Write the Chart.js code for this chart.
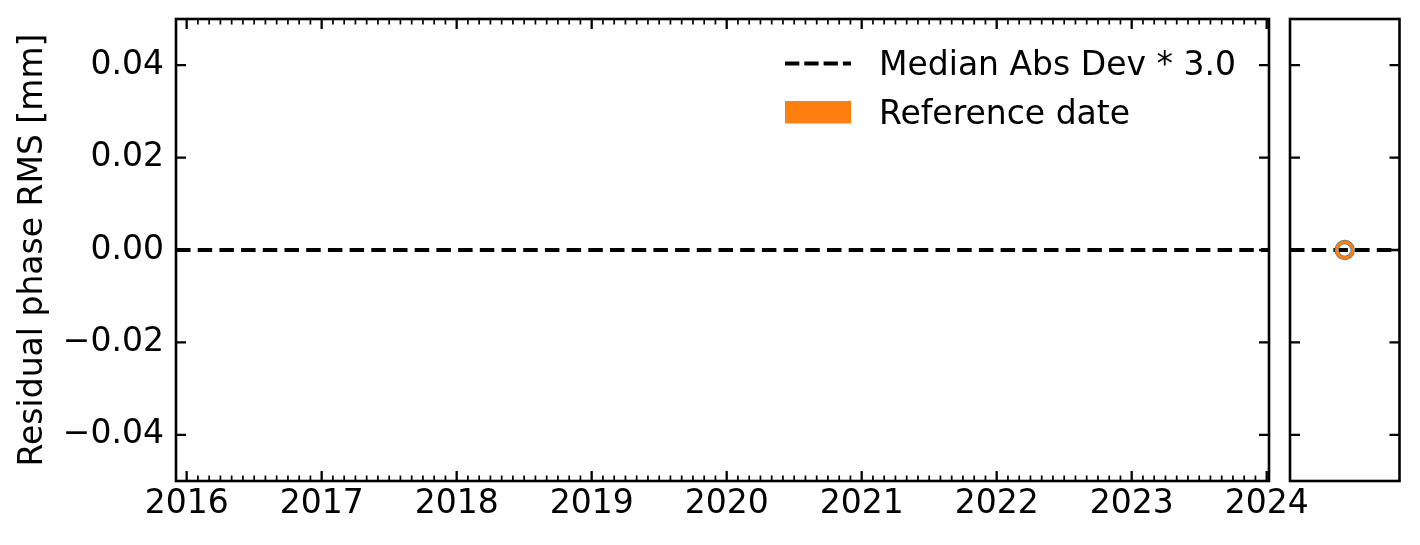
<!DOCTYPE html>
<html><head><meta charset="utf-8">
<script src="https://cdn.jsdelivr.net/npm/chart.js@4.4.0/dist/chart.umd.min.js"></script>
<style>
html,body{margin:0;padding:0;background:#fff;}
#wrap{position:relative;width:1420px;height:545px;}
canvas{position:absolute;left:0;top:0;}
</style></head><body>
<div id="wrap"><canvas id="main" width="1420" height="545"></canvas><canvas id="side" width="1420" height="545"></canvas></div>
<script>
// ---- data ----
const X_TICK_YEARS = [2016, 2017, 2018, 2019, 2020, 2021, 2022, 2023, 2024];
const X_RANGE = [2015.921, 2024.017];
const Y_TICKS = [-0.04, -0.02, 0, 0.02, 0.04];
const Y_RANGE = [-0.05, 0.05];
const MAD_LABEL = 'Median Abs Dev * 3.0';
const MAD_VALUE = [0];
const REF_LABEL = 'Reference date';
const SIDE_X = [0];          // reference-date sample (days from reference date)
const SIDE_Y = [0];          // residual phase RMS at the reference date
const SIDE_RANGE = [-1, 1];
const Y_TITLE = 'Residual phase RMS [mm]';

const FONT = 'DejaVu Sans';
const FS = 33;
const BLACK = '#000000';
const ORANGE = '#ff7f0e';
const BLUE = '#1f77b4';
const DASH = [14.5, 7.2];

function fmtY(v) {
  const s = Number(v).toFixed(2);
  return (Math.abs(v) < 1e-12 ? '0.00' : s).replace('-', '\u2212');
}

// frame + inward ticks plugin
function framePlugin(opts) {
  return {
    id: 'frame' + opts.name,
    afterDatasetsDraw(chart) {
      const {ctx, chartArea: a, scales} = chart;
      ctx.save();
      ctx.strokeStyle = BLACK;
      ctx.lineCap = 'butt';
      ctx.lineWidth = 2.3;
      Y_TICKS.forEach(v => {
        const py = scales.y.getPixelForValue(v);
        ctx.beginPath();
        ctx.moveTo(a.left, py); ctx.lineTo(a.left + 10, py);
        ctx.moveTo(a.right, py); ctx.lineTo(a.right - 10, py);
        ctx.stroke();
      });
      if (opts.xTicks) {
        const xs = scales.x;
        X_TICK_YEARS.forEach(v => {
          const px = xs.getPixelForValue(v);
          ctx.lineWidth = 2.3;
          ctx.beginPath();
          ctx.moveTo(px, a.bottom); ctx.lineTo(px, a.bottom - 10);
          ctx.moveTo(px, a.top); ctx.lineTo(px, a.top + 10);
          ctx.stroke();
        });
        ctx.lineWidth = 1.7;
        const y0 = X_TICK_YEARS[0] - 1, y1 = X_TICK_YEARS[X_TICK_YEARS.length - 1];
        for (let yr = y0; yr <= y1; yr++) {
          for (let m = 1; m < 12; m++) {
            const v = yr + m / 12;
            if (v < X_RANGE[0] || v > X_RANGE[1]) continue;
            const px = xs.getPixelForValue(v);
            ctx.beginPath();
            ctx.moveTo(px, a.bottom); ctx.lineTo(px, a.bottom - 5.5);
            ctx.moveTo(px, a.top); ctx.lineTo(px, a.top + 5.5);
            ctx.stroke();
          }
        }
      }
      ctx.lineWidth = 2.6;
      ctx.strokeRect(a.left, a.top, a.right - a.left, a.bottom - a.top);
      ctx.restore();
    }
  };
}

const legendPlugin = {
  id: 'customLegend',
  afterDraw(chart) {
    const ctx = chart.ctx;
    ctx.save();
    ctx.strokeStyle = BLACK;
    ctx.lineWidth = 3.9;
    ctx.setLineDash([14.3, 5.0]);
    ctx.beginPath();
    ctx.moveTo(785, 63.5); ctx.lineTo(851, 63.5);
    ctx.stroke();
    ctx.setLineDash([]);
    ctx.fillStyle = ORANGE;
    ctx.fillRect(785, 101, 66, 22.5);
    ctx.fillStyle = BLACK;
    ctx.font = FS + 'px "' + FONT + '"';
    ctx.textAlign = 'left';
    ctx.textBaseline = 'alphabetic';
    ctx.fillText(MAD_LABEL, 879, 75);
    ctx.fillText(REF_LABEL, 879, 123.5);
    ctx.restore();
  }
};

Chart.defaults.font.family = FONT;
Chart.defaults.font.size = FS;
Chart.defaults.color = BLACK;

new Chart(document.getElementById('main'), {
  type: 'line',
  data: {
    datasets: [{
      label: MAD_LABEL,
      data: [{x: X_RANGE[0], y: MAD_VALUE[0]}, {x: X_RANGE[1], y: MAD_VALUE[0]}],
      borderColor: BLACK,
      borderWidth: 3.9,
      borderDash: DASH,
      borderCapStyle: 'butt',
      pointRadius: 0,
      fill: false,
      tension: 0
    }]
  },
  options: {
    responsive: false,
    animation: false,
    events: [],
    layout: {padding: {left: 0, top: 19, right: 151, bottom: 0}},
    plugins: {legend: {display: false}, tooltip: {enabled: false}},
    scales: {
      x: {
        type: 'linear',
        min: X_RANGE[0], max: X_RANGE[1],
        grid: {display: false, drawTicks: false},
        border: {display: false},
        afterBuildTicks: s => { s.ticks = X_TICK_YEARS.map(v => ({value: v})); },
        afterFit: s => { s.height = 64; s.paddingLeft = 0; s.paddingRight = 0; },
        ticks: {padding: 4, maxRotation: 0, autoSkip: false, callback: v => String(v), font: {size: FS}}
      },
      y: {
        type: 'linear',
        min: Y_RANGE[0], max: Y_RANGE[1],
        grid: {display: false, drawTicks: false},
        border: {display: false},
        afterBuildTicks: s => { s.ticks = Y_TICKS.map(v => ({value: v})); },
        afterFit: s => { s.width = 176; s.paddingTop = 0; s.paddingBottom = 0; },
        ticks: {padding: 12, autoSkip: false, callback: v => fmtY(v), font: {size: FS}},
        title: {display: true, text: Y_TITLE, font: {size: FS}, padding: {top: 14, bottom: 0}}
      }
    }
  },
  plugins: [framePlugin({name: 'main', xTicks: true}), legendPlugin]
});

new Chart(document.getElementById('side'), {
  type: 'line',
  data: {
    datasets: [
      {
        label: 'reference point',
        data: SIDE_X.map((x, i) => ({x, y: SIDE_Y[i]})),
        showLine: false,
        pointRadius: 8,
        pointBorderWidth: 3.4,
        pointBackgroundColor: 'rgba(0,0,0,0)',
        pointBorderColor: ORANGE
      },
      {
        label: 'reference point edge',
        data: SIDE_X.map((x, i) => ({x, y: SIDE_Y[i]})),
        showLine: false,
        pointRadius: 8,
        pointBorderWidth: 4.4,
        pointBackgroundColor: 'rgba(0,0,0,0)',
        pointBorderColor: BLUE
      },
      {
        label: MAD_LABEL,
        data: [{x: SIDE_RANGE[0], y: MAD_VALUE[0]}, {x: SIDE_RANGE[1], y: MAD_VALUE[0]}],
        borderColor: BLACK,
        borderWidth: 3.9,
        borderDash: DASH,
        borderCapStyle: 'butt',
        pointRadius: 0,
        fill: false
      }
    ]
  },
  options: {
    responsive: false,
    animation: false,
    events: [],
    layout: {padding: {left: 1290, top: 19, right: 20.5, bottom: 64}},
    plugins: {legend: {display: false}, tooltip: {enabled: false}},
    scales: {
      x: {type: 'linear', min: SIDE_RANGE[0], max: SIDE_RANGE[1], display: false},
      y: {type: 'linear', min: Y_RANGE[0], max: Y_RANGE[1], display: false}
    }
  },
  plugins: [framePlugin({name: 'side', xTicks: false})]
});
</script>
</body></html>
